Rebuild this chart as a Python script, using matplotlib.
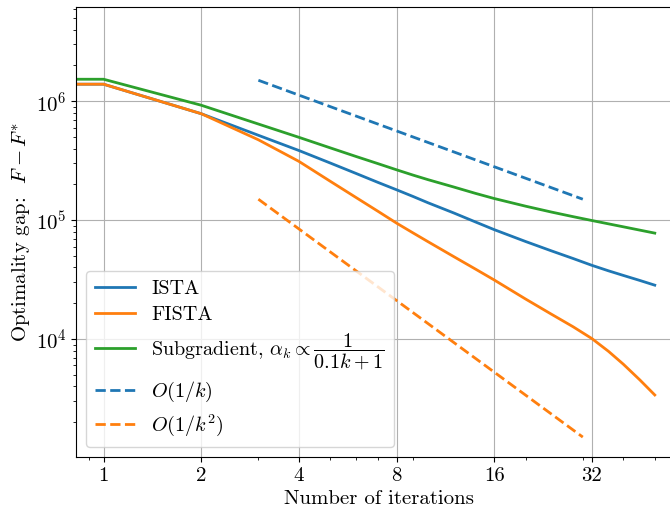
import numpy as np
import matplotlib
matplotlib.use('Agg')
import matplotlib.pyplot as plt

plt.rcParams['font.family'] = 'serif'
plt.rcParams['font.serif'] = ['cmr10', 'DejaVu Serif']
plt.rcParams['mathtext.fontset'] = 'cm'
plt.rcParams['axes.unicode_minus'] = False
plt.rcParams['axes.formatter.use_mathtext'] = True

# iterations (k = 0 gets clipped by the log axis, giving the flat start)
k = [0, 1, 2, 3, 4, 5, 6, 7, 8, 9, 10, 12, 14, 16, 20, 24, 28, 32, 36, 40, 45, 50]
ista = [1.39e6, 1.39e6, 7.85e5, 5.17e5, 3.85e5, 3.02e5, 2.47e5, 2.08e5, 1.80e5, 1.58e5, 1.40e5,
        1.15e5, 9.66e4, 8.32e4, 6.61e4, 5.52e4, 4.76e4, 4.17e4, 3.75e4, 3.43e4, 3.11e4, 2.84e4]
fista = [1.39e6, 1.39e6, 7.85e5, 4.74e5, 3.12e5, 2.12e5, 1.55e5, 1.19e5, 9.44e4, 7.8e4, 6.59e4,
         4.94e4, 3.88e4, 3.14e4, 2.17e4, 1.62e4, 1.27e4, 1.01e4, 7.89e3, 6.15e3, 4.53e3, 3.39e3]
subgrad = [1.53e6, 1.53e6, 9.25e5, 6.43e5, 4.97e5, 4.05e5, 3.43e5, 2.99e5, 2.65e5, 2.39e5, 2.19e5,
           1.90e5, 1.68e5, 1.52e5, 1.31e5, 1.17e5, 1.07e5, 9.93e4, 9.31e4, 8.79e4, 8.24e4, 7.78e4]

# reference rates
k_ref = [3, 30]
rate_1k = [1.5e6, 1.5e5]
rate_1k2 = [1.5e5, 1.5e3]

xticks = [1, 2, 4, 8, 16, 32]

fig = plt.figure(figsize=(6.7, 5.12), dpi=100)
ax = fig.add_axes([0.1134, 0.1074, 0.905, 0.879])

ax.plot(k, ista, color='C0', lw=2, label='ISTA')
ax.plot(k, fista, color='C1', lw=2, label='FISTA')
ax.plot(k, subgrad, color='C2', lw=2,
        label=r'Subgradient, $\alpha_k \propto \dfrac{1}{0.1k+1}$')
ax.plot(k_ref, rate_1k, color='C0', lw=2, ls='--', label=r'$O(1/k)$')
ax.plot(k_ref, rate_1k2, color='C1', lw=2, ls='--', label=r'$O(1/k^2)$')

ax.set_xscale('log')
ax.set_yscale('log')
ax.set_xlim(0.822, 60.8)
ax.set_ylim(1.02e3, 6.2e6)
ax.set_xticks(xticks)
ax.set_xticklabels([str(t) for t in xticks])
ax.xaxis.set_minor_formatter(matplotlib.ticker.NullFormatter())
ax.tick_params(labelsize=15)
ax.grid(True, which='major')

ax.set_xlabel('Number of iterations', fontsize=15)
ax.set_ylabel(r'Optimality gap:  $F - F^{*}$', fontsize=15, labelpad=2)
ax.legend(loc='lower left', fontsize=14.5, borderpad=0.45, labelspacing=0.4)

fig.savefig('out.png', dpi=100)
